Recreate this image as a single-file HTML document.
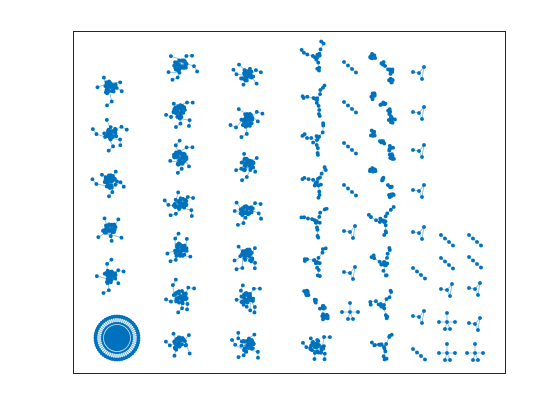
<!DOCTYPE html>
<html><head><meta charset="utf-8"><style>
body{margin:0;background:#fff;width:560px;height:420px;overflow:hidden}
svg{display:block}
</style></head><body>
<svg id="chart" width="560" height="420">
<rect x="0" y="0" width="560" height="420" fill="#fff"/>
<rect x="73.5" y="31.5" width="432" height="342" fill="#fff" stroke="#262626" stroke-width="1"/>
<g id="plot"></g>
</svg>
<script>
// component positions (x,y) and component types
const compX = [110,110,110,110,110,117,
 180,180,180,180,180,180,180,
 247,247,247,247,247,247,247,
 317,317,317,317,317,317,317,317,
 350,350,350,350,350,350,350,
 384,384,384,384,384,384,384,384,
 419,419,419,419,419,419,419,419,
 447,447,447,447,447,
 475,475,475,475,475];
const compY = [88,133,182,230,277,338,
 66,112,158,204,250,297,344,
 75,120,165,211,256,300,345,
 58,100,140,182,222,262,305,347,
 67,107,148,190,231,272,312,
 68,108,145,183,222,262,305,347,
 72,112,150,190,232,273,316,354,
 240,263,289,322,353,
 240,262,288,323,353];
const compType = ['star','star','star','star','star','ring',
 'star','star','star','star','star','star','star',
 'star','star','star','star','star','star','star',
 'tree','tree','tree','tree','tree','tree','crescent','star',
 'chain','chain','chain','chain','small','small','cross',
 'crescent','crescent','crescent','crescent','tree','tree','tree','tree',
 'small','small','small','small','small','chain','small','chain',
 'chain','chain','small','cross','cross',
 'chain','chain','small','small','cross'];

const C='#0072BD';
const plot=document.getElementById('plot');
let seed=7;function rnd(){seed=(seed*16807)%2147483647;return seed/2147483647;}
function el(tag,attrs){const e=document.createElementNS('http://www.w3.org/2000/svg',tag);for(const k in attrs)e.setAttribute(k,attrs[k]);return e;}
function comp(cx,cy,type,i){
  const g=el('g',{});
  
  
  const nodes=[],edges=[];
  function add(x,y){nodes.push([x,y]);return nodes.length-1;}
  if(type==='star'){
    const core=[];for(let k=0;k<30;k++){const a=rnd()*6.28,r=Math.sqrt(rnd())*7;core.push(add(cx+r*Math.cos(a),cy+r*Math.sin(a)));}
    for(let k=0;k<core.length;k++){edges.push([core[k],core[(k*7+3)%core.length]]);}
    const ns=5;for(let s=0;s<ns;s++){const a=s*6.28/ns+rnd()*0.8,L=10+rnd()*4;const p=add(cx+L*Math.cos(a),cy+L*Math.sin(a));edges.push([core[s],p]);
      if(rnd()<0.5){const q=add(cx+(L+4)*Math.cos(a+0.3),cy+(L+4)*Math.sin(a+0.3));edges.push([p,q]);}}
  } else if(type==='ring'){
    const n=56;
    for(let k=0;k<n;k++){const a=k*6.28/n;g.appendChild(el('line',{x1:cx+15*Math.cos(a),y1:cy+15*Math.sin(a),x2:cx+21.5*Math.cos(a),y2:cy+21.5*Math.sin(a),stroke:C,'stroke-opacity':0.55,'stroke-width':1}));}
    g.appendChild(el('circle',{cx:cx,cy:cy,r:16,fill:C}));
    g.appendChild(el('circle',{cx:cx,cy:cy,r:13.5,fill:'none',stroke:'#cfe3f3','stroke-width':0.8}));
    for(let k=0;k<n;k++){const a=k*6.28/n;add(cx+21.5*Math.cos(a),cy+21.5*Math.sin(a));}
  } else if(type==='tree'){
    const c=add(cx,cy);const arms=[[-1,-0.3],[0.5,-1],[0.1,1]];
    for(const d of arms){let prev=c;for(let s=1;s<=3;s++){const p=add(cx+d[0]*s*4.5+(rnd()-0.5)*3,cy+d[1]*s*4.5+(rnd()-0.5)*3);edges.push([prev,p]);prev=p;}
      const a=add(nodes[prev][0]+(rnd()-0.5)*6,nodes[prev][1]+(rnd()-0.5)*6);edges.push([prev,a]);}
    for(let k=0;k<4;k++){const p=add(cx+(rnd()-0.5)*8,cy+(rnd()-0.5)*8);edges.push([c,p]);}
  } else if(type==='crescent'){
    for(let b=0;b<4;b++){const t=-1.2+b*0.8;const bx=cx-4+12*Math.sin(t+0.6),by=cy+13*(t/1.2)*0.9;
      for(let k=0;k<(b===0||b===3?10:6);k++){const a=rnd()*6.28,r=rnd()*3.5;const p=add(bx+r*Math.cos(a),by+r*Math.sin(a));if(k)edges.push([p-1,p]);}}
  } else if(type==='chain'){
    let prev=-1;for(let k=0;k<4;k++){const p=add(cx-6+k*4,cy-5+k*3.5);if(prev>=0)edges.push([prev,p]);prev=p;}
  } else if(type==='small'){
    const a=add(cx-6,cy),b=add(cx,cy+1),c=add(cx+5,cy-5),d=add(cx+3,cy+7);
    edges.push([a,b],[b,c],[b,d],[c,d]);
  } else if(type==='cross'){
    const c=add(cx,cy),t=add(cx,cy-9),l=add(cx-8,cy),r=add(cx+8,cy),b1=add(cx-2,cy+7),b2=add(cx+3,cy+7);
    edges.push([c,t],[c,l],[c,r],[c,b1],[c,b2],[b1,b2]);
  }
  for(const e of edges){g.appendChild(el('line',{x1:nodes[e[0]][0],y1:nodes[e[0]][1],x2:nodes[e[1]][0],y2:nodes[e[1]][1],stroke:C,'stroke-opacity':0.5,'stroke-width':0.8}));}
  for(const n of nodes){g.appendChild(el('circle',{cx:n[0],cy:n[1],r:1.9,fill:C}));}
  plot.appendChild(g);
}
for(let i=0;i<compX.length;i++)comp(compX[i],compY[i],compType[i],i);
</script>
</body></html>
